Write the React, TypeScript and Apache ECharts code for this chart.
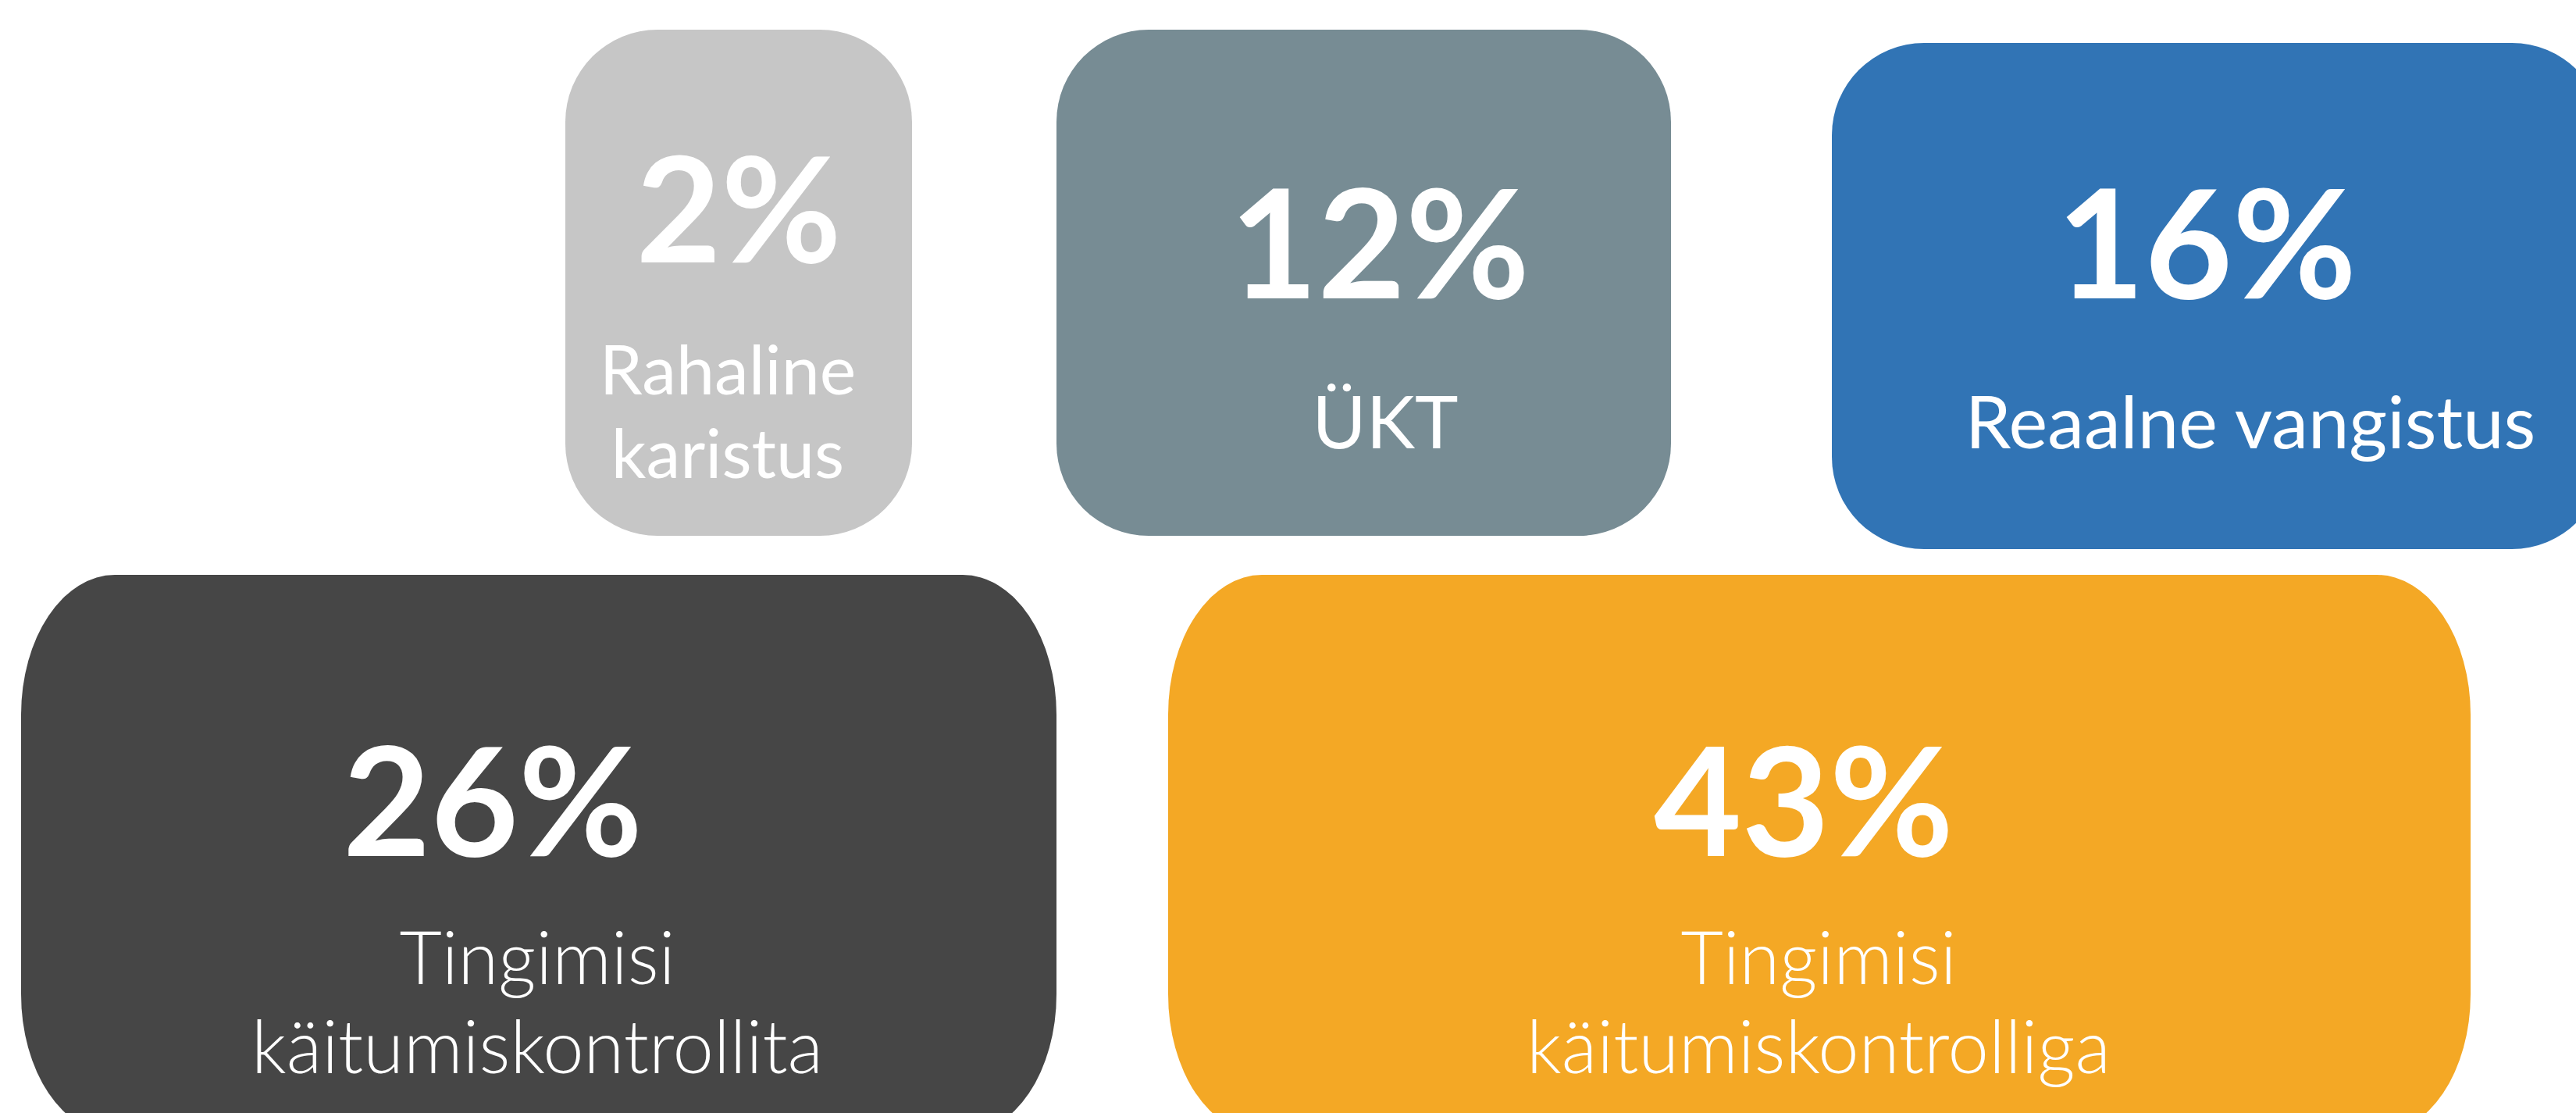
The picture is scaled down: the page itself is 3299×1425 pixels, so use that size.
import React, { useEffect, useRef } from "react";
import * as echarts from "echarts";

// ---- data ----
const categories = [
  "Rahaline karistus",
  "ÜKT",
  "Reaalne vangistus",
  "Tingimisi käitumiskontrollita",
  "Tingimisi käitumiskontrolliga",
];
const labelLines = [
  ["Rahaline", "karistus"],
  ["ÜKT"],
  ["Reaalne vangistus"],
  ["Tingimisi", "käitumiskontrollita"],
  ["Tingimisi", "käitumiskontrolliga"],
];
const shares = [2, 12, 16, 26, 43];

// ---- styles ----
const boxColors = ["#C6C6C6", "#778C94", "#3174B5", "#464646", "#F4A825"];

// ---- layout (pixels) ----
const boxes = [
  { x: 724, y: 38, w: 444, h: 648, rx: 118, ry: 118, numX: 946, numY: 263, numSize: 188, labX: 932, labY: 524, labSize: 88, lh: 107, labWeight: 400 },
  { x: 1353, y: 38, w: 787, h: 648, rx: 118, ry: 118, numX: 1767, numY: 307, numSize: 194, labX: 1774, labY: 537, labSize: 94, lh: 107, labWeight: 400 },
  { x: 2346, y: 55, w: 989, h: 648, rx: 118, ry: 118, numX: 2826, numY: 307, numSize: 194, labX: 2882, labY: 537, labSize: 94, lh: 107, labWeight: 400 },
  { x: 27, y: 736, w: 1326, h: 716, rx: 120, ry: 179, numX: 631, numY: 1021, numSize: 194, labX: 688, labY: 1280, labSize: 94, lh: 114, labWeight: 300 },
  { x: 1496, y: 736, w: 1668, h: 716, rx: 120, ry: 179, numX: 2310, numY: 1021, numSize: 194, labX: 2329, labY: 1280, labSize: 94, lh: 114, labWeight: 300 },
];

function roundBoxPath(b: any): string {
  const { x, y, w, h, rx, ry } = b;
  return [
    `M${x + rx},${y}`,
    `L${x + w - rx},${y}`,
    `A${rx},${ry} 0 0 1 ${x + w},${y + ry}`,
    `L${x + w},${y + h - ry}`,
    `A${rx},${ry} 0 0 1 ${x + w - rx},${y + h}`,
    `L${x + rx},${y + h}`,
    `A${rx},${ry} 0 0 1 ${x},${y + h - ry}`,
    `L${x},${y + ry}`,
    `A${rx},${ry} 0 0 1 ${x + rx},${y}`,
    "Z",
  ].join(" ");
}

export default function App() {
  const ref = useRef<HTMLDivElement>(null);
  useEffect(() => {
    document.body.style.margin = "0";
    document.body.style.overflow = "hidden";
    const chart = echarts.init(ref.current!, null, { renderer: "svg" });
    chart.setOption({
      animation: false,
      backgroundColor: "#FFFFFF",
      series: [
        {
          type: "custom",
          coordinateSystem: "none",
          data: shares.map((v, i) => ({ name: categories[i], value: v })),
          renderItem: (params: any, api: any) => {
            const i = params.dataIndex;
            const b = boxes[i];
            const v = api.value(0);
            const lines = labelLines[i];
            const top = b.labY - ((lines.length - 1) * b.lh) / 2;
            const labelEls = lines.map((t, k) => ({
              type: "text",
              x: b.labX,
              y: top + k * b.lh,
              style: {
                text: t,
                fill: "#FFFFFF",
                fontFamily: "Lato",
                fontWeight: b.labWeight,
                fontSize: b.labSize,
                align: "center",
                verticalAlign: "middle",
                textAlign: "center",
                textVerticalAlign: "middle",
              },
            }));
            return {
              type: "group",
              children: [
                {
                  type: "path",
                  shape: { pathData: roundBoxPath(b) },
                  style: { fill: boxColors[i], stroke: "none" },
                },
                {
                  type: "text",
                  x: b.numX,
                  y: b.numY,
                  style: {
                    text: `${v}%`,
                    fill: "#FFFFFF",
                    fontFamily: "Lato",
                    fontWeight: "bold",
                    fontSize: b.numSize,
                    align: "center",
                    verticalAlign: "middle",
                    textAlign: "center",
                    textVerticalAlign: "middle",
                  },
                },
                ...labelEls,
              ],
            };
          },
        },
      ],
    });
    return () => chart.dispose();
  }, []);
  return <div ref={ref} style={{ width: 3299, height: 1425 }} />;
}
